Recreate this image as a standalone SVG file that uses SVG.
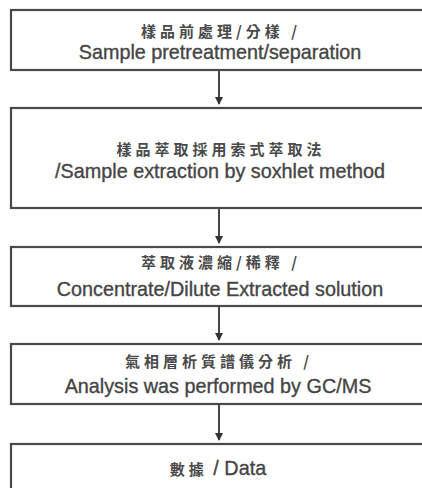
<svg xmlns="http://www.w3.org/2000/svg" width="422" height="488" viewBox="0 0 422 488">
<style>
.box{fill:#ffffff;stroke:#4a4a4a;stroke-width:2.2}
.zh{font-family:"Noto Sans CJK TC","Noto Sans CJK SC",serif;font-size:15px;fill:#4a4a4a;text-anchor:middle;letter-spacing:4px;font-weight:bold}
.en{font-family:"Liberation Sans",Arial,sans-serif;font-size:19.8px;fill:#454545;stroke:#454545;stroke-width:0.35;text-anchor:middle}
.conn{stroke:#333;stroke-width:1.8;fill:none}
</style>
<defs>
<marker id="ah" markerWidth="8" markerHeight="8" refX="7" refY="4" orient="auto" markerUnits="userSpaceOnUse">
<path d="M0,0 L8,4 L0,8 Z" fill="#333"/>
</marker>
</defs>
<rect width="422" height="488" fill="#ffffff"/>
<g id="connectors">
<line class="conn" x1="219" y1="71" x2="219" y2="104" marker-end="url(#ah)"/>
<line class="conn" x1="219" y1="209" x2="219" y2="243" marker-end="url(#ah)"/>
<line class="conn" x1="219" y1="307" x2="219" y2="340" marker-end="url(#ah)"/>
<line class="conn" x1="219" y1="405" x2="219" y2="440" marker-end="url(#ah)"/>
</g>
<g id="node1">
<rect class="box" x="11" y="10" width="420" height="60"/>
<text class="zh" x="221" y="37">樣品前處理/分樣 /</text>
<text class="en" x="220" y="59">Sample pretreatment/separation</text>
</g>
<g id="node2">
<rect class="box" x="11" y="108" width="420" height="100"/>
<text class="zh" x="221" y="155">樣品萃取採用索式萃取法</text>
<text class="en" x="220" y="178">/Sample extraction by soxhlet method</text>
</g>
<g id="node3">
<rect class="box" x="11" y="247" width="420" height="59"/>
<text class="zh" x="221" y="268">萃取液濃縮/稀釋 /</text>
<text class="en" x="220" y="296">Concentrate/Dilute Extracted solution</text>
</g>
<g id="node4">
<rect class="box" x="11" y="344" width="420" height="60"/>
<text class="zh" x="219" y="367">氣相層析質譜儀分析 /</text>
<text class="en" x="218" y="393">Analysis was performed by GC/MS</text>
</g>
<g id="node5">
<rect class="box" x="11" y="444" width="420" height="60"/>
<text class="en" x="218" y="475"><tspan style="font-size:15px;letter-spacing:4px;font-family:'Noto Sans CJK TC','Noto Sans CJK SC',serif;font-weight:bold;stroke:none;fill:#4a4a4a">數據</tspan> /  Data</text>
</g>
</svg>
